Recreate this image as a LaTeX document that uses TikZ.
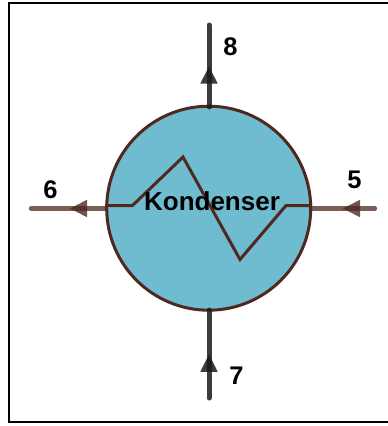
\documentclass[tikz,border=0pt]{standalone}
\usepackage{fontspec}
\setmainfont{Liberation Sans}
\definecolor{ringc}{HTML}{50281F}
\definecolor{fillc}{HTML}{6FBBCF}
\definecolor{hotc}{HTML}{50281F}
\definecolor{coldc}{HTML}{1A1A1A}
\tikzset{
  vessel/.style={circle,draw=ringc,fill=fillc,line width=3pt,minimum size=204pt,inner sep=0pt},
  hotline/.style={draw=hotc,draw opacity=.75,line width=4.4pt,line cap=round},
  coldline/.style={draw=coldc,draw opacity=.85,line width=5pt,line cap=round},
  hottip/.style={fill=hotc,fill opacity=.8},
  coldtip/.style={fill=coldc,fill opacity=.85},
  coil/.style={draw=ringc,line width=3pt,line join=miter},
  numlabel/.style={font=\bfseries\fontsize{25.5pt}{28pt}\selectfont,inner sep=0pt},
  title/.style={font=\bfseries\fontsize{26pt}{28pt}\selectfont,inner sep=0pt}
}
\begin{document}
\begin{tikzpicture}[x=1pt,y=-1pt]
\useasboundingbox (0,0) rectangle (388,426);
\fill[white] (0,0) rectangle (388,426);
\draw[black,line width=2.4pt] (395,3.2) -- (9.2,3.2) -- (9.2,422.2) -- (395,422.2);
\node[vessel] (K) at (208.7,208.2) {};
\coordinate (t8) at (209,25);
\coordinate (b8) at (209,107);
\coordinate (t7) at (209,310);
\coordinate (b7) at (209,398);
\coordinate (l6) at (31,208.5);
\coordinate (r6) at (106,208.5);
\coordinate (l5) at (311,208.5);
\coordinate (r5) at (375,208.5);
\coordinate (c1) at (132.5,205.5);
\coordinate (c2) at (183,157);
\coordinate (c3) at (240,259.5);
\coordinate (c4) at (286,205.5);
\draw[coil] (K.west |- c1) -- (c1) -- (c2) -- (c3) -- (c4) -- (K.east |- c4);
\draw[coldline] (b8) -- (t8);
\draw[coldline] (b7) -- (t7);
\draw[hotline] (r6) -- (l6);
\draw[hotline] (r5) -- (l5);
\fill[coldtip] (209,66.5) -- (217.7,83.5) -- (200.3,83.5) -- cycle;
\fill[coldtip] (209,354.5) -- (217.7,371.8) -- (200.3,371.8) -- cycle;
\fill[hottip] (70,208.5) -- (87,199.8) -- (87,217.2) -- cycle;
\fill[hottip] (343,208.5) -- (360,199.8) -- (360,217.2) -- cycle;
\node[title] (name) at (212,201) {Kondenser};
\node[numlabel] (n8) at (230.5,46.5) {8};
\node[numlabel] (n6) at (50.5,189.5) {6};
\node[numlabel] (n5) at (354.5,179.5) {5};
\node[numlabel] (n7) at (236.5,375.5) {7};
\end{tikzpicture}
\end{document}
